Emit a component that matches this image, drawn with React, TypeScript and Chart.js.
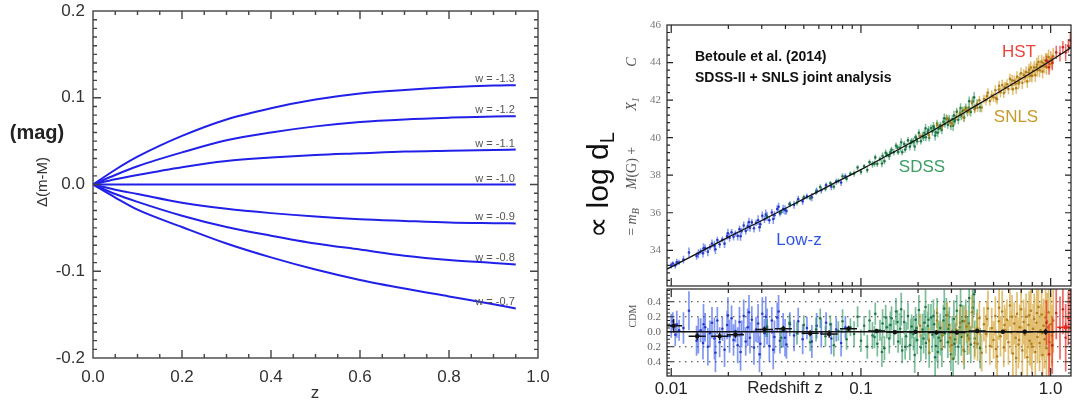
import React, { useEffect, useRef } from "react";
import { Chart, registerables } from "chart.js";

Chart.register(...registerables);

const SANS = "'Liberation Sans', Arial, Helvetica, sans-serif";
const SERIF = "'Liberation Serif', 'DejaVu Serif', 'Times New Roman', serif";

// ---------------- Left panel data: Δ(m-M) vs z for several w ----------------
const Z_GRID = [0, 0.05, 0.1, 0.2, 0.3, 0.4, 0.5, 0.6, 0.7, 0.8, 0.9, 0.95];
const DM_W_13 = [0, 0.017, 0.032, 0.056, 0.075, 0.088, 0.098, 0.105, 0.109, 0.112, 0.114, 0.1145];
const DM_W_12 = [0, 0.011, 0.021, 0.037, 0.051, 0.06, 0.067, 0.072, 0.075, 0.077, 0.0785, 0.0787];
const DM_W_11 = [0, 0.006, 0.011, 0.02, 0.027, 0.031, 0.034, 0.036, 0.038, 0.039, 0.0399, 0.0403];
const DM_W_10 = [0, 0, 0, 0, 0, 0, 0, 0, 0, 0, 0, 0];
const DM_W_09 = [0, -0.006, -0.011, -0.021, -0.028, -0.033, -0.037, -0.04, -0.042, -0.0438, -0.0446, -0.0449];
const DM_W_08 = [0, -0.011, -0.02, -0.036, -0.049, -0.059, -0.068, -0.075, -0.082, -0.087, -0.0905, -0.0922];
const DM_W_07 = [0, -0.015, -0.029, -0.049, -0.068, -0.084, -0.098, -0.11, -0.12, -0.129, -0.138, -0.1429];
const W_SERIES = [DM_W_13, DM_W_12, DM_W_11, DM_W_10, DM_W_09, DM_W_08, DM_W_07];
const W_LABELS = ["w = -1.3", "w = -1.2", "w = -1.1", "w = -1.0", "w = -0.9", "w = -0.8", "w = -0.7"];
const LEFT_X_TICKS = [0, 0.2, 0.4, 0.6, 0.8, 1.0];
const LEFT_X_LABELS = ["0.0", "0.2", "0.4", "0.6", "0.8", "1.0"];
const LEFT_Y_TICKS = [-0.2, -0.1, 0, 0.1, 0.2];
const LEFT_Y_LABELS = ["-0.2", "-0.1", "0.0", "0.1", "0.2"];

// ---------------- Right panel data: Hubble diagram ----------------
const MODEL_Z = [0.0095, 0.015, 0.02, 0.03, 0.05, 0.07, 0.1, 0.15, 0.2, 0.3, 0.4, 0.5, 0.7, 1.0, 1.3];
const MODEL_MU = [33.0, 34.04, 34.7, 35.59, 36.74, 37.5, 38.3, 39.25, 39.94, 40.94, 41.68, 42.26, 43.14, 44.1, 44.84];

// [z, Hubble residual (mag), error (mag)]
const LOWZ_SNE: number[][] = [
  [0.01, 0.08, 0.16], [0.0102, 0.14, 0.12], [0.0105, -0.04, 0.15], [0.0107, 0.1, 0.18], [0.011, 0.02, 0.14],
  [0.0116, 0.05, 0.21], [0.0124, 0.28, 0.26], [0.0136, -0.12, 0.2], [0.0139, -0.05, 0.24], [0.0143, 0.02, 0.16],
  [0.0147, -0.15, 0.22], [0.0151, 0.06, 0.19], [0.0156, -0.2, 0.25], [0.016, -0.02, 0.17], [0.0164, 0.12, 0.21],
  [0.0169, -0.09, 0.28], [0.0175, 0.15, 0.18], [0.018, -0.14, 0.2], [0.0186, 0.04, 0.16], [0.0191, -0.24, 0.23],
  [0.0197, 0.09, 0.19], [0.0203, -0.06, 0.22], [0.0208, 0.18, 0.17], [0.0213, -0.11, 0.21], [0.0218, 0.01, 0.15],
  [0.0224, -0.18, 0.24], [0.0229, 0.13, 0.2], [0.0235, -0.03, 0.18], [0.0241, 0.21, 0.22], [0.0247, -0.13, 0.19],
  [0.0253, 0.06, 0.25], [0.026, -0.08, 0.21], [0.0266, 0.16, 0.18], [0.0273, -0.21, 0.23], [0.028, 0.03, 0.17],
  [0.0287, 0.11, 0.26], [0.0295, -0.16, 0.2], [0.0302, 0.24, 0.22], [0.031, -0.02, 0.19], [0.032, 0.07, 0.24],
  [0.0329, -0.19, 0.21], [0.0339, 0.15, 0.18], [0.035, -0.07, 0.22], [0.0362, 0.19, 0.2], [0.0374, -0.12, 0.17],
  [0.0389, 0.02, 0.23], [0.0405, -0.17, 0.19], [0.0422, 0.1, 0.16], [0.0444, -0.05, 0.21], [0.0467, 0.14, 0.18],
  [0.0493, -0.1, 0.2], [0.0519, 0.05, 0.15], [0.0551, -0.13, 0.22], [0.0584, 0.08, 0.17], [0.0618, -0.02, 0.19],
  [0.0655, 0.12, 0.14], [0.0698, -0.09, 0.21], [0.0741, 0.03, 0.16], [0.0786, -0.15, 0.18], [0.0828, 0.06, 0.15],
  [0.0148, 0.1, 0.27], [0.0171, -0.28, 0.26], [0.0199, 0.22, 0.24], [0.0232, -0.27, 0.25], [0.0257, 0.26, 0.23],
  [0.0292, -0.3, 0.24], [0.0315, 0.2, 0.27], [0.0345, -0.24, 0.26], [0.0368, 0.27, 0.22], [0.0398, -0.08, 0.25],
];

const SDSS_SNE: number[][] = [
  [0.032, 0.05, 0.12], [0.038, -0.08, 0.14], [0.042, 0.12, 0.11], [0.046, -0.02, 0.15], [0.05, 0.09, 0.13],
  [0.054, -0.14, 0.12], [0.058, 0.03, 0.16], [0.061, 0.18, 0.13], [0.065, -0.06, 0.14], [0.069, 0.1, 0.12],
  [0.072, -0.18, 0.15], [0.076, 0.01, 0.13], [0.08, 0.14, 0.16], [0.084, -0.1, 0.14], [0.088, 0.06, 0.12],
  [0.092, -0.03, 0.17], [0.096, 0.2, 0.14], [0.1, -0.12, 0.15], [0.104, 0.08, 0.13], [0.108, -0.2, 0.16],
  [0.111, 0.15, 0.14], [0.115, -0.05, 0.18], [0.119, 0.24, 0.15], [0.122, -0.16, 0.17], [0.126, 0.02, 0.14],
  [0.13, 0.11, 0.19], [0.133, -0.22, 0.16], [0.137, 0.06, 0.15], [0.141, -0.09, 0.2], [0.145, 0.18, 0.16],
  [0.149, -0.01, 0.17], [0.153, 0.27, 0.18], [0.157, -0.13, 0.15], [0.161, 0.04, 0.21], [0.165, -0.25, 0.17],
  [0.169, 0.13, 0.16], [0.173, -0.06, 0.19], [0.177, 0.21, 0.18], [0.181, -0.18, 0.2], [0.185, 0.07, 0.16],
  [0.189, -0.03, 0.22], [0.194, 0.16, 0.17], [0.198, -0.11, 0.19], [0.202, 0.29, 0.2], [0.207, -0.21, 0.18],
  [0.211, 0.03, 0.21], [0.216, 0.12, 0.17], [0.22, -0.15, 0.22], [0.225, 0.08, 0.19], [0.229, -0.28, 0.2],
  [0.234, 0.19, 0.18], [0.238, -0.04, 0.23], [0.243, 0.1, 0.19], [0.248, -0.19, 0.21], [0.252, 0.25, 0.2],
  [0.257, -0.08, 0.22], [0.262, 0.05, 0.19], [0.267, -0.23, 0.24], [0.272, 0.15, 0.21], [0.277, -0.02, 0.2],
  [0.282, 0.22, 0.23], [0.287, -0.14, 0.21], [0.292, 0.09, 0.24], [0.298, -0.3, 0.22], [0.303, 0.01, 0.2],
  [0.309, 0.17, 0.25], [0.314, -0.1, 0.22], [0.32, 0.28, 0.21], [0.326, -0.2, 0.24], [0.332, 0.06, 0.23],
  [0.338, -0.07, 0.25], [0.344, 0.14, 0.22], [0.35, -0.26, 0.24], [0.357, 0.2, 0.23], [0.364, -0.05, 0.26],
  [0.371, 0.11, 0.24], [0.379, -0.17, 0.25], [0.388, 0.32, 0.27], [0.398, -0.09, 0.24], [0.41, 0.04, 0.26],
  [0.425, -0.22, 0.27], [0.118, -0.07, 0.15], [0.143, 0.09, 0.18], [0.171, -0.2, 0.17], [0.196, 0.05, 0.19],
  [0.214, -0.09, 0.2], [0.241, 0.21, 0.22], [0.264, -0.12, 0.2], [0.289, 0.04, 0.23], [0.311, -0.16, 0.21],
  [0.156, 0.13, 0.16], [0.183, -0.01, 0.18], [0.227, 0.16, 0.21], [0.254, -0.27, 0.22], [0.135, 0.19, 0.17],
  [0.372, 0.45, 0.25], [0.395, 0.5, 0.28], [0.129, -0.27, 0.2], [0.163, 0.3, 0.22], [0.192, -0.31, 0.24],
  [0.219, 0.33, 0.23], [0.246, -0.34, 0.26], [0.275, 0.31, 0.25], [0.306, -0.36, 0.27], [0.335, 0.35, 0.26],
];

const SNLS_SNE: number[][] = [
  [0.205, 0.08, 0.16], [0.228, -0.12, 0.18], [0.252, 0.15, 0.17], [0.268, -0.05, 0.19], [0.285, 0.22, 0.18],
  [0.301, -0.18, 0.2], [0.318, 0.03, 0.19], [0.333, 0.12, 0.21], [0.347, -0.24, 0.2], [0.36, 0.07, 0.22],
  [0.372, -0.09, 0.21], [0.385, 0.26, 0.23], [0.397, -0.15, 0.22], [0.409, 0.01, 0.24], [0.421, 0.18, 0.22],
  [0.433, -0.28, 0.25], [0.445, 0.1, 0.23], [0.456, -0.03, 0.26], [0.467, 0.31, 0.24], [0.478, -0.19, 0.25],
  [0.489, 0.05, 0.27], [0.5, -0.11, 0.25], [0.511, 0.21, 0.26], [0.522, -0.33, 0.28], [0.533, 0.14, 0.25],
  [0.544, -0.06, 0.27], [0.555, 0.27, 0.28], [0.566, -0.21, 0.26], [0.577, 0.02, 0.29], [0.588, 0.16, 0.27],
  [0.599, -0.14, 0.3], [0.61, 0.35, 0.28], [0.621, -0.01, 0.29], [0.632, -0.29, 0.31], [0.643, 0.11, 0.28],
  [0.654, -0.08, 0.3], [0.665, 0.24, 0.29], [0.676, -0.17, 0.32], [0.687, 0.06, 0.3], [0.698, 0.3, 0.31],
  [0.709, -0.25, 0.33], [0.72, 0.13, 0.3], [0.731, -0.04, 0.32], [0.742, 0.2, 0.31], [0.753, -0.34, 0.34],
  [0.764, 0.09, 0.32], [0.775, -0.12, 0.33], [0.786, 0.28, 0.32], [0.797, -0.2, 0.35], [0.808, 0.04, 0.33],
  [0.819, 0.17, 0.34], [0.83, -0.27, 0.36], [0.841, 0.12, 0.34], [0.852, -0.07, 0.35], [0.863, 0.33, 0.36],
  [0.874, -0.15, 0.37], [0.885, 0.02, 0.35], [0.896, 0.23, 0.38], [0.907, -0.31, 0.37], [0.918, 0.08, 0.36],
  [0.929, -0.1, 0.39], [0.94, 0.19, 0.38], [0.951, -0.22, 0.4], [0.963, 0.06, 0.39], [0.975, 0.26, 0.41],
  [0.987, -0.14, 0.4], [1.0, 0.1, 0.42], [1.015, -0.05, 0.41], [1.032, 0.15, 0.43], [0.462, 0.17, 0.24],
  [0.515, -0.23, 0.26], [0.571, 0.09, 0.27], [0.626, 0.2, 0.29], [0.681, -0.11, 0.3], [0.736, 0.01, 0.31],
  [0.791, -0.16, 0.33], [0.846, 0.25, 0.35], [0.901, -0.02, 0.36], [0.956, 0.14, 0.38], [0.412, -0.16, 0.23],
  [0.35, 0.14, 0.21], [0.295, -0.08, 0.19], [0.535, 0.32, 0.27], [0.658, -0.35, 0.3], [0.77, 0.22, 0.32],
];

const HST_SNE: number[][] = [
  [0.95, 0.12, 0.3], [0.98, -0.3, 0.4], [1.02, -0.18, 0.38], [1.07, 0.25, 0.35], [1.12, 0.05, 0.42],
  [1.16, 0.3, 0.33], [1.2, -0.08, 0.45], [1.24, 0.18, 0.36], [1.27, 0.4, 0.4],
];

const BIN_Z = [0.0103, 0.0137, 0.018, 0.0218, 0.031, 0.039, 0.054, 0.068, 0.086, 0.121, 0.151, 0.194, 0.25, 0.32, 0.41, 0.56, 0.73, 0.94];
const BIN_RES = [0.08, -0.06, -0.06, -0.04, 0.03, 0.04, -0.02, -0.03, 0.04, 0.01, -0.005, 0.0, -0.01, -0.01, 0.01, 0.0, 0.0, 0.0];
const BIN_ERR = [0.09, 0.05, 0.05, 0.04, 0.04, 0.04, 0.04, 0.05, 0.04, 0.03, 0.03, 0.03, 0.03, 0.03, 0.03, 0.03, 0.03, 0.04];
const HST_BIN_Z = [1.2];
const HST_BIN_RES = [0.06];
const HST_BIN_ERR = [0.06];

const UPPER_Y_TICKS = [34, 36, 38, 40, 42, 44, 46];
const LOWER_Y_TICKS = [-0.4, -0.2, 0, 0.2, 0.4];
const LOWER_Y_LABELS = ["0.4", "0.2", "0.0", "0.2", "0.4"];
const LOWER_X_TICKS = [0.01, 0.1, 1.0];
const LOWER_X_LABELS = ["0.01", "0.1", "1.0"];

// ---------------- helpers ----------------
function modelMu(z: number): number {
  const lz = Math.log10(z);
  for (let i = 0; i < MODEL_Z.length - 1; i++) {
    const a = Math.log10(MODEL_Z[i]);
    const b = Math.log10(MODEL_Z[i + 1]);
    if (lz <= b || i === MODEL_Z.length - 2) {
      const t = (lz - a) / (b - a);
      return MODEL_MU[i] + t * (MODEL_MU[i + 1] - MODEL_MU[i]);
    }
  }
  return MODEL_MU[0];
}

function errSegments(rows: number[][], yOf: (z: number, r: number) => number) {
  const out: any[] = [];
  for (const [z, r, e] of rows) {
    const y = yOf(z, r);
    out.push({ x: z, y: y - e }, { x: z, y: y + e }, { x: z, y: null });
  }
  return out;
}

function linTicks(from: number, to: number, step: number, every: number, big: number, small: number) {
  const res: [number, number][] = [];
  const n0 = Math.round(from / step), n1 = Math.round(to / step);
  for (let i = n0; i <= n1; i++) res.push([i * step, i % every === 0 ? big : small]);
  return res;
}
function logTicks(big: number, small: number) {
  const res: [number, number][] = [];
  for (const d of [0.001, 0.01, 0.1, 1]) for (let m = 1; m <= 9; m++) res.push([m * d, m === 1 ? big : small]);
  return res;
}

function drawFrameTicks(chart: any, xs: [number, number][], ys: [number, number][], sides: any, color: string, lw: number) {
  const { ctx, chartArea: a, scales } = chart;
  const sx = scales.x, sy = scales.y;
  ctx.save();
  ctx.strokeStyle = color;
  ctx.lineWidth = lw;
  ctx.strokeRect(a.left, a.top, a.right - a.left, a.bottom - a.top);
  ctx.beginPath();
  for (const [v, len] of xs) {
    const p = sx.getPixelForValue(v);
    if (p < a.left + 0.5 || p > a.right - 0.5) continue;
    if (sides.bottom) { ctx.moveTo(p, a.bottom); ctx.lineTo(p, a.bottom - len); }
    if (sides.top) { ctx.moveTo(p, a.top); ctx.lineTo(p, a.top + len); }
  }
  for (const [v, len] of ys) {
    const p = sy.getPixelForValue(v);
    if (p < a.top + 0.5 || p > a.bottom - 0.5) continue;
    if (sides.left) { ctx.moveTo(a.left, p); ctx.lineTo(a.left + len, p); }
    if (sides.right) { ctx.moveTo(a.right, p); ctx.lineTo(a.right - len, p); }
  }
  ctx.stroke();
  ctx.restore();
}

function text(ctx: any, s: string, x: number, y: number, font: string, color: string, align = "center", rot = 0) {
  ctx.save();
  ctx.translate(x, y);
  if (rot) ctx.rotate(rot);
  ctx.font = font;
  ctx.fillStyle = color;
  ctx.textAlign = align;
  ctx.textBaseline = "middle";
  ctx.fillText(s, 0, 0);
  ctx.restore();
}

// rich rotated text: pieces [string, font, dy]
function richRotated(ctx: any, pieces: [string, string, number][], cx: number, cy: number, color: string) {
  ctx.save();
  ctx.translate(cx, cy);
  ctx.rotate(-Math.PI / 2);
  let total = 0;
  for (const [s, f] of pieces) { ctx.font = f; total += ctx.measureText(s).width; }
  let x = -total / 2;
  ctx.fillStyle = color;
  ctx.textBaseline = "middle";
  ctx.textAlign = "left";
  for (const [s, f, dy] of pieces) {
    ctx.font = f;
    ctx.fillText(s, x, dy);
    x += ctx.measureText(s).width;
  }
  ctx.restore();
}

const noPad = (s: any) => { s.paddingTop = 0; s.paddingBottom = 0; s.paddingLeft = 0; s.paddingRight = 0; };

// ---------------- charts ----------------
function makeLeft(canvas: HTMLCanvasElement) {
  const plugin = {
    id: "leftDecor",
    afterDatasetsDraw(chart: any) {
      const { ctx } = chart;
      ctx.save();
      ctx.font = `11px ${SANS}`;
      ctx.fillStyle = "#555";
      ctx.textAlign = "right";
      ctx.textBaseline = "alphabetic";
      chart.data.datasets.forEach((_: any, i: number) => {
        const meta = chart.getDatasetMeta(i);
        const pt = meta.data[meta.data.length - 1];
        ctx.fillText(W_LABELS[i], pt.x - 1, pt.y - 3);
      });
      ctx.restore();
    },
    afterDraw(chart: any) {
      drawFrameTicks(chart, linTicks(0, 1, 0.05, 4, 8, 4), linTicks(-0.2, 0.2, 0.01, 10, 8, 4),
        { top: true, bottom: true, left: true, right: true }, "#444", 1.4);
      const { ctx } = chart;
      text(ctx, "(mag)", 37, 133, `bold 20px ${SANS}`, "#222");
      text(ctx, "Δ(m-M)", 43, 182, `15px ${SANS}`, "#333", "center", -Math.PI / 2);
      text(ctx, "z", 315, 393, `17px ${SANS}`, "#333");
    },
  };
  return new Chart(canvas, {
    type: "scatter",
    data: {
      datasets: W_SERIES.map((vals, k) => ({
        label: W_LABELS[k],
        data: Z_GRID.map((z, i) => ({ x: z, y: vals[i] })),
        showLine: true,
        borderColor: "#2020e8",
        borderWidth: 2,
        pointRadius: 0,
        cubicInterpolationMode: "monotone",
        fill: false,
      })),
    },
    options: {
      animation: false,
      responsive: false,
      events: [],
      layout: { padding: { top: 11, right: 22, left: 0, bottom: 0 } },
      plugins: { legend: { display: false }, tooltip: { enabled: false } },
      scales: {
        x: {
          type: "linear", min: 0, max: 1,
          afterBuildTicks: (s: any) => { s.ticks = LEFT_X_TICKS.map((v) => ({ value: v })); },
          ticks: { callback: (_v: any, i: number) => LEFT_X_LABELS[i], font: { family: SANS, size: 17 }, color: "#333", padding: 9, maxRotation: 0, autoSkip: false },
          grid: { display: false, drawTicks: false },
          border: { display: false },
          afterFit: (s: any) => { s.height = 46; noPad(s); },
        },
        y: {
          type: "linear", min: -0.2, max: 0.2,
          afterBuildTicks: (s: any) => { s.ticks = LEFT_Y_TICKS.map((v) => ({ value: v })); },
          ticks: { callback: (_v: any, i: number) => LEFT_Y_LABELS[i], font: { family: SANS, size: 17 }, color: "#333", padding: 8, autoSkip: false },
          grid: { display: false, drawTicks: false },
          border: { display: false },
          afterFit: (s: any) => { s.width = 93; noPad(s); },
        },
      },
    } as any,
    plugins: [plugin],
  });
}

const SAMPLE_STYLE = [
  { rows: LOWZ_SNE, bar: "rgba(45,80,235,0.6)", dot: "rgba(25,45,200,0.9)", order: 10 },
  { rows: SDSS_SNE, bar: "rgba(35,145,85,0.6)", dot: "rgba(20,110,60,0.9)", order: 8 },
  { rows: SNLS_SNE, bar: "rgba(210,155,35,0.65)", dot: "rgba(170,120,20,0.9)", order: 6 },
  { rows: HST_SNE, bar: "rgba(235,55,45,0.75)", dot: "rgba(200,30,30,0.9)", order: 4 },
];

function sampleSets(yOf: (z: number, r: number) => number, lw: number) {
  const sets: any[] = [];
  for (const s of SAMPLE_STYLE) {
    sets.push({ data: errSegments(s.rows, yOf), showLine: true, spanGaps: false, borderColor: s.bar, borderWidth: lw, pointRadius: 0, order: s.order });
    sets.push({ data: s.rows.map(([z, r]) => ({ x: z, y: yOf(z, r) })), showLine: false, pointRadius: 1.3, pointBorderWidth: 0, pointBackgroundColor: s.dot, order: s.order - 1 });
  }
  return sets;
}

function makeUpper(canvas: HTMLCanvasElement) {
  const plugin = {
    id: "upperDecor",
    afterDraw(chart: any) {
      drawFrameTicks(chart, logTicks(8, 4), linTicks(32, 46, 0.4, 5, 6, 3),
        { top: true, bottom: true, left: true, right: true }, "#222", 1.2);
      const { ctx } = chart;
      ctx.save();
      ctx.font = `bold 14px ${SANS}`;
      ctx.fillStyle = "#111";
      ctx.textBaseline = "middle";
      ctx.fillText("Betoule et al. (2014)", 155, 57);
      ctx.fillText("SDSS-II + SNLS joint analysis", 155, 78);
      ctx.restore();
      text(ctx, "HST", 479, 52, `17px ${SANS}`, "#e8453c");
      text(ctx, "SNLS", 476, 117, `17px ${SANS}`, "#c89a2a");
      text(ctx, "SDSS", 382, 167, `17px ${SANS}`, "#3a9e62");
      text(ctx, "Low-z", 259, 240, `17px ${SANS}`, "#2f55e6");
      richRotated(ctx, [["∝ log d", `30px ${SANS}`, 0], ["L", `20px ${SANS}`, 8]], 60, 185, "#111");
      const it = `italic 14px ${SERIF}`;
      const itS = `italic 10px ${SERIF}`;
      richRotated(ctx, [["C", it, 0]], 92, 62, "#555");
      richRotated(ctx, [["X", it, 0], ["1", itS, 4]], 92, 104, "#555");
      richRotated(ctx, [["M", it, 0], ["(G) +", `14px ${SERIF}`, 0]], 92, 168, "#555");
      richRotated(ctx, [["= ", `14px ${SERIF}`, 0], ["m", it, 0], ["B", itS, 4]], 92, 222, "#555");
    },
  };
  return new Chart(canvas, {
    type: "scatter",
    data: {
      datasets: [
        ...sampleSets((z, r) => modelMu(z) + r, 1.5),
        { data: MODEL_Z.map((z, i) => ({ x: z, y: MODEL_MU[i] })), showLine: true, borderColor: "#111", borderWidth: 1.3, pointRadius: 0, cubicInterpolationMode: "monotone", order: 0 },
      ],
    },
    options: {
      animation: false,
      responsive: false,
      events: [],
      layout: { padding: { top: 25, right: 9, left: 0, bottom: 1 } },
      plugins: { legend: { display: false }, tooltip: { enabled: false } },
      scales: {
        x: { type: "logarithmic", min: 0.0095, max: 1.28, display: false },
        y: {
          type: "linear", min: 32.1, max: 46,
          afterBuildTicks: (s: any) => { s.ticks = UPPER_Y_TICKS.map((v) => ({ value: v })); },
          ticks: { callback: (v: any) => String(v), font: { family: SERIF, size: 11 }, color: "#777", padding: 6, autoSkip: false },
          grid: { display: false, drawTicks: false },
          border: { display: false },
          afterFit: (s: any) => { s.width = 127; noPad(s); },
        },
      },
    } as any,
    plugins: [plugin],
  });
}

function makeLower(canvas: HTMLCanvasElement) {
  const H = 0.045;
  const binSets = (zs: number[], rs: number[], es: number[], color: string, order: number) => {
    const v: any[] = [], h: any[] = [];
    zs.forEach((z, i) => {
      v.push({ x: z, y: rs[i] - es[i] }, { x: z, y: rs[i] + es[i] }, { x: z, y: null });
      h.push({ x: z * Math.pow(10, -H), y: rs[i] }, { x: z * Math.pow(10, H), y: rs[i] }, { x: z, y: null });
    });
    return [
      { data: v, showLine: true, spanGaps: false, borderColor: color, borderWidth: 1.4, pointRadius: 0, order },
      { data: h, showLine: true, spanGaps: false, borderColor: color, borderWidth: 1.4, pointRadius: 0, order },
      { data: zs.map((z, i) => ({ x: z, y: rs[i] })), showLine: false, pointStyle: "rect", pointRadius: 2.6, pointBackgroundColor: color, pointBorderWidth: 0, order: order - 1 },
    ];
  };
  const plugin = {
    id: "lowerDecor",
    beforeDatasetsDraw(chart: any) {
      const { ctx, chartArea: a, scales } = chart;
      ctx.save();
      ctx.strokeStyle = "#333";
      ctx.lineWidth = 1.2;
      ctx.setLineDash([1.5, 4.5]);
      ctx.beginPath();
      for (const v of [-0.4, -0.2, 0.2, 0.4]) {
        const p = scales.y.getPixelForValue(v);
        ctx.moveTo(a.left, p); ctx.lineTo(a.right, p);
      }
      ctx.stroke();
      ctx.restore();
    },
    afterDatasetsDraw(chart: any) {
      const { ctx, chartArea: a, scales } = chart;
      const p = scales.y.getPixelForValue(0);
      ctx.save();
      ctx.strokeStyle = "#111";
      ctx.lineWidth = 1.5;
      ctx.beginPath();
      ctx.moveTo(a.left, p); ctx.lineTo(a.right, p);
      ctx.stroke();
      ctx.restore();
    },
    afterDraw(chart: any) {
      drawFrameTicks(chart, logTicks(8, 4), linTicks(-0.6, 0.6, 0.05, 4, 6, 3),
        { top: true, bottom: true, left: true, right: true }, "#222", 1.2);
      const { ctx } = chart;
      text(ctx, "CDM", 93, 46, `10px ${SERIF}`, "#555", "center", -Math.PI / 2);
      text(ctx, "Redshift z", 245, 118, `17px ${SANS}`, "#222");
    },
  };
  return new Chart(canvas, {
    type: "scatter",
    data: {
      datasets: [
        ...sampleSets((_z, r) => r, 1.7),
        ...binSets(BIN_Z, BIN_RES, BIN_ERR, "#111", 2),
        ...binSets(HST_BIN_Z, HST_BIN_RES, HST_BIN_ERR, "#e02a20", 1),
      ],
    },
    options: {
      animation: false,
      responsive: false,
      events: [],
      layout: { padding: { top: 19, right: 9, left: 0, bottom: 0 } },
      plugins: { legend: { display: false }, tooltip: { enabled: false } },
      scales: {
        x: {
          type: "logarithmic", min: 0.0095, max: 1.28,
          afterBuildTicks: (s: any) => { s.ticks = LOWER_X_TICKS.map((v) => ({ value: v })); },
          ticks: { callback: (_v: any, i: number) => LOWER_X_LABELS[i], font: { family: SANS, size: 17 }, color: "#222", padding: 3, maxRotation: 0, autoSkip: false },
          grid: { display: false, drawTicks: false },
          border: { display: false },
          afterFit: (s: any) => { s.height = 28; noPad(s); },
        },
        y: {
          type: "linear", min: -0.59, max: 0.57,
          afterBuildTicks: (s: any) => { s.ticks = LOWER_Y_TICKS.map((v) => ({ value: v })); },
          ticks: { callback: (_v: any, i: number) => LOWER_Y_LABELS[i], font: { family: SERIF, size: 11 }, color: "#666", padding: 6, autoSkip: false },
          grid: { display: false, drawTicks: false },
          border: { display: false },
          afterFit: (s: any) => { s.width = 127; noPad(s); },
        },
      },
    } as any,
    plugins: [plugin],
  });
}

export default function App() {
  const leftRef = useRef<HTMLCanvasElement | null>(null);
  const upRef = useRef<HTMLCanvasElement | null>(null);
  const lowRef = useRef<HTMLCanvasElement | null>(null);
  useEffect(() => {
    const c1 = makeLeft(leftRef.current!);
    const c2 = makeUpper(upRef.current!);
    const c3 = makeLower(lowRef.current!);
    return () => { c1.destroy(); c2.destroy(); c3.destroy(); };
  }, []);
  return (
    <div style={{ position: "fixed", left: 0, top: 0, width: 1073, height: 404, overflow: "hidden", background: "#fff" }}>
      <canvas ref={upRef} width={540} height={290} style={{ position: "absolute", left: 540, top: 0, display: "block" }} />
      <canvas ref={lowRef} width={540} height={134} style={{ position: "absolute", left: 540, top: 270, display: "block" }} />
      <canvas ref={leftRef} width={560} height={404} style={{ position: "absolute", left: 0, top: 0, display: "block" }} />
    </div>
  );
}
